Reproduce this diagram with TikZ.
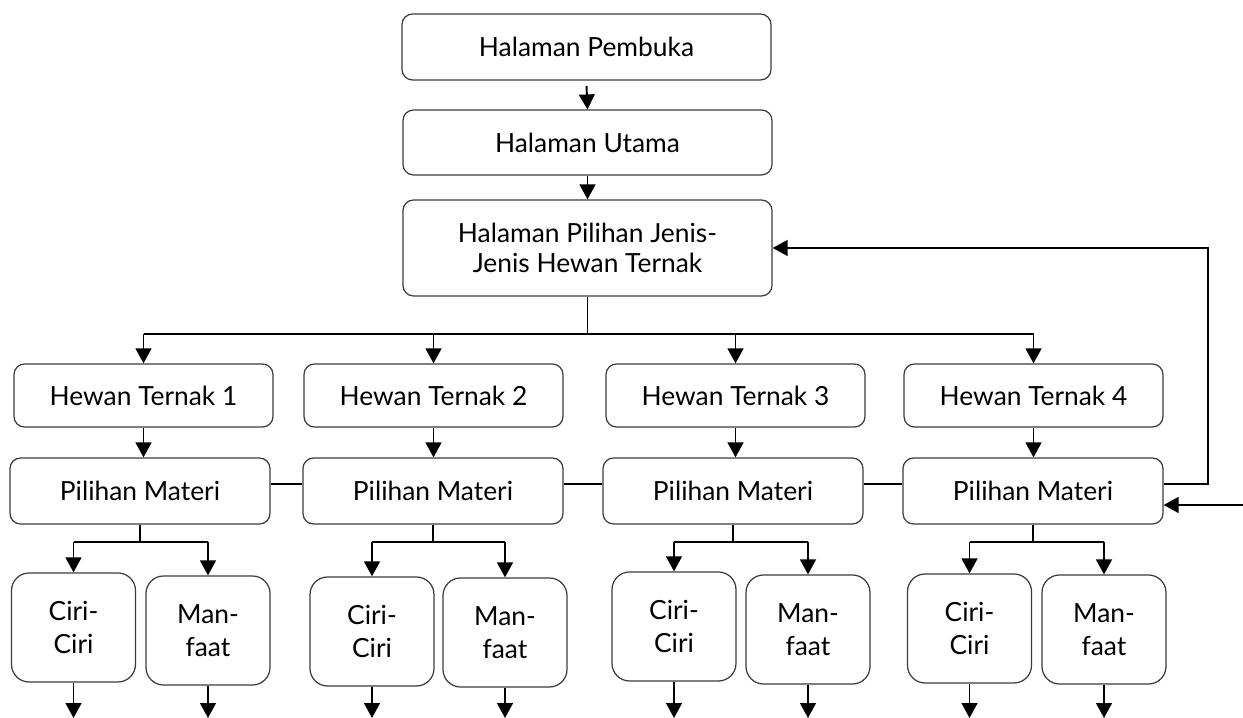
\documentclass[tikz,border=0pt]{standalone}
\usepackage{fontspec}
\setmainfont{Lato}
\usepackage{xcolor}
\usepackage{tikz}
\usetikzlibrary{arrows.meta}
\usetikzlibrary{calc}
\definecolor{boxcolor}{HTML}{3C3C3C}

\begin{document}
\begin{tikzpicture}[
    box/.style={draw=boxcolor,line width=0.7pt,rounded corners=6pt,align=center,
      inner sep=0pt,font=\fontsize{15}{17.5}\selectfont},
    smallbox/.style={box,rounded corners=10pt,minimum width=2.48cm,minimum height=2.18cm,
      font=\fontsize{15}{19}\selectfont},
    conn/.style={black,line width=1.1pt},
    arr/.style={conn,-{Triangle[length=8.5pt,width=9pt]}}]
    \useasboundingbox (0,0) rectangle (24.86,14.36);
%% top column
    \node[box,minimum width=7.38cm,minimum height=1.32cm] (pembuka) at (11.73,13.42) {Halaman Pembuka};
    \node[box,minimum width=7.38cm,minimum height=1.30cm] (utama) at (11.75,11.51) {Halaman Utama};
    \node[box,minimum width=7.38cm,minimum height=1.92cm] (jenis) at (11.75,9.40) {Halaman Pilihan Jenis-\\Jenis Hewan Ternak};
    \draw[arr] ([yshift=-3pt]pembuka.south) -- (utama.north);
    \draw[arr] (utama.south) -- (jenis.north);
%% hewan ternak and pilihan materi
\foreach \i/\xh/\xm in {1/2.87/2.80, 2/8.67/8.66, 3/14.71/14.66, 4/20.67/20.66}
{
    \node[box,minimum width=5.18cm,minimum height=1.26cm] (h\i) at (\xh,6.45) {Hewan Ternak \i};
    \node[box,minimum width=5.20cm,minimum height=1.32cm] (m\i) at (\xm,4.54) {Pilihan Materi};
    \draw[arr] (h\i.south) -- (h\i.south |- m\i.north);
}
    \draw[conn] (jenis.south) -- ++(0,-0.74) coordinate (bus);
    \draw[conn] (bus -| h1) -- (bus -| h4);
\foreach \i in {1,2,3,4}
    \draw[arr] (bus -| h\i) -- (h\i.north);
\foreach \i/\j in {1/2, 2/3, 3/4}
    \draw[conn] ([yshift=4pt]m\i.east) -- ([yshift=4pt]m\j.west);
%% back to pilihan jenis
    \draw[arr] ([yshift=4pt]m4.east) -- ++(0.88,0) |- (jenis.east);
    \coordinate (masuk) at (24.86,4.26);
    \draw[arr] (masuk) -- (masuk -| m4.east);
%% ciri-ciri and manfaat
\foreach \i/\xc/\yc/\xf/\yf in {1/1.47/1.81/4.16/1.75, 2/7.44/1.73/10.10/1.71,
                                3/13.48/1.83/16.16/1.77, 4/19.39/1.79/22.08/1.77}
{
    \node[smallbox] (c\i) at (\xc,\yc) {Ciri-\\Ciri};
    \node[smallbox] (f\i) at (\xf,\yf) {Man-\\faat};
    \draw[conn] (m\i.south) -- ++(0,-0.34) coordinate (cab\i);
    \draw[conn] (cab\i -| c\i) -- (cab\i -| f\i);
    \draw[arr] (cab\i -| c\i) -- (c\i.north);
    \draw[arr] (cab\i -| f\i) -- (f\i.north);
    \draw[arr] (c\i.south) -- (c\i.south |- 0,0);
    \draw[arr] (f\i.south) -- (f\i.south |- 0,0);
}
\end{tikzpicture}
\end{document}
